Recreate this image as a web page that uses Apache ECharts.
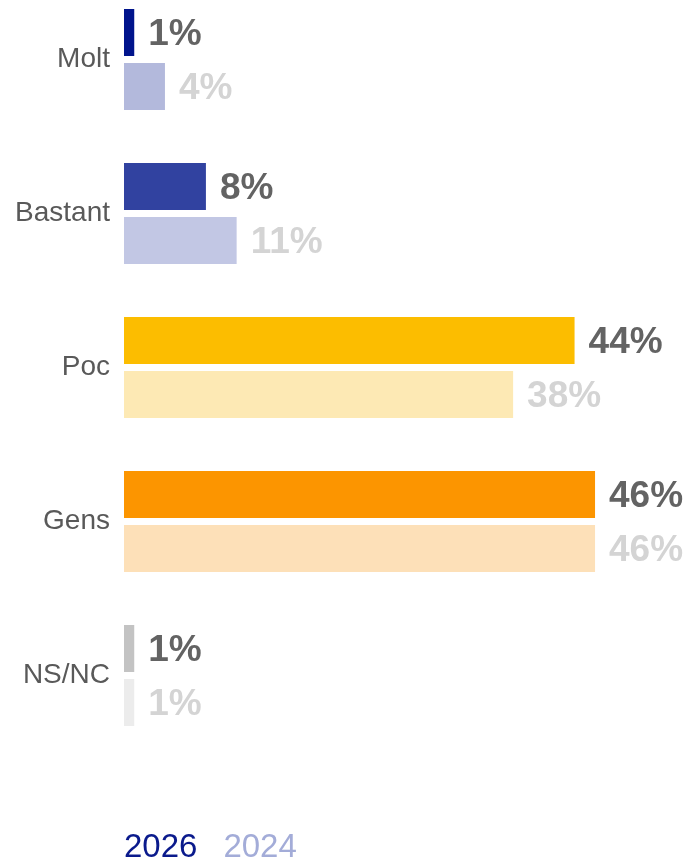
<!DOCTYPE html>
<html>
<head>
<meta charset="utf-8">
<script src="https://cdn.jsdelivr.net/npm/echarts@6/dist/echarts.min.js"></script>
<style>
html,body{margin:0;padding:0;background:#fff;}
#chart{width:689px;height:859px;}
</style>
</head>
<body>
<div id="chart"></div>
<script>
const categories = ['Molt', 'Bastant', 'Poc', 'Gens', 'NS/NC'];
const seriesNames = ['2026', '2024'];
const values2026 = [1, 8, 44, 46, 1];
const values2024 = [4, 11, 38, 46, 1];
const colors2026 = ['#00148c', '#3142a0', '#fcbd00', '#fc9500', '#c3c3c3'];
const colors2024 = ['#b3b9dc', '#c2c7e4', '#fde9b4', '#fde0b8', '#ececec'];
const legendColors = ['#0a1a8c', '#a3acd8'];

const chart = echarts.init(document.getElementById('chart'), null, {renderer: 'canvas'});
const font = 'Liberation Sans, Arial, sans-serif';

function mkData(vals, cols) {
  return vals.map((v, i) => ({value: v, itemStyle: {color: cols[i]}}));
}

chart.setOption({
  animation: false,
  backgroundColor: '#ffffff',
  grid: {left: 124, width: 512, top: -17.5, height: 770, outerBoundsMode: 'none', containLabel: false},
  xAxis: {type: 'value', min: 0, max: 50, show: false},
  yAxis: {
    type: 'category', data: categories, inverse: true,
    axisLine: {show: false}, axisTick: {show: false}, splitLine: {show: false},
    axisLabel: {color: '#595959', fontSize: 28, fontFamily: font, margin: 14, padding: [8, 0, 0, 0]}
  },
  legend: {
    left: 114, top: 826, itemWidth: 0, itemHeight: 0, itemGap: 21, icon: 'rect',
    textStyle: {fontSize: 33, fontFamily: font},
    data: seriesNames.map((n, i) => ({name: n, textStyle: {color: legendColors[i]}}))
  },
  series: [
    {
      name: seriesNames[0], type: 'bar', barWidth: 47, barGap: '15%', barCategoryGap: '34%',
      data: mkData(values2026, colors2026),
      itemStyle: {color: legendColors[0]},
      label: {show: true, position: 'right', distance: 14, formatter: '{c}%', offset: [0, 2],
        color: '#636363', fontSize: 37, fontWeight: 'bold', fontFamily: font}
    },
    {
      name: seriesNames[1], type: 'bar', barWidth: 47, barGap: '15%', barCategoryGap: '34%',
      data: mkData(values2024, colors2024),
      itemStyle: {color: legendColors[1]},
      label: {show: true, position: 'right', distance: 14, formatter: '{c}%', offset: [0, 2],
        color: '#d4d4d4', fontSize: 37, fontWeight: 'bold', fontFamily: font}
    }
  ]
});
</script>
</body>
</html>
